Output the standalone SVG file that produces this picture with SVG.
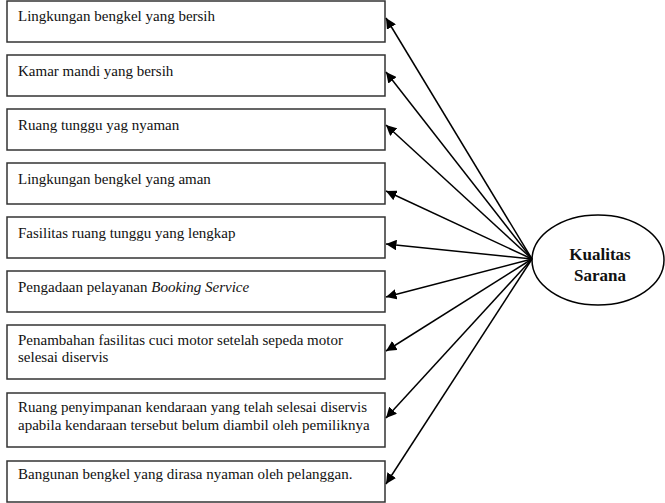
<svg xmlns="http://www.w3.org/2000/svg" width="665" height="503" viewBox="0 0 665 503">
<style>
.box{fill:#fff;stroke:#333;stroke-width:1.5}
.t{font-family:"Liberation Serif","Times New Roman",serif;font-size:15px;fill:#111}
.c{stroke:#000;stroke-width:1.5;fill:none;marker-end:url(#ah)}
.h{font-family:"Liberation Serif","Times New Roman",serif;font-size:17px;font-weight:bold;fill:#111;text-anchor:middle}
</style>
<defs>
<marker id="ah" viewBox="0 0 10 10" refX="10" refY="5" markerWidth="7" markerHeight="7" orient="auto" markerUnits="strokeWidth">
<path d="M0,0 L10,5 L0,10 z" fill="#000"/>
</marker>
</defs>
<rect width="665" height="503" fill="#fff"/>
<g id="n1"><rect class="box" x="7" y="1" width="378" height="41"/><text class="t" x="18" y="21">Lingkungan bengkel yang bersih</text></g>
<g id="n2"><rect class="box" x="7" y="55" width="378" height="41"/><text class="t" x="18" y="76">Kamar mandi yang bersih</text></g>
<g id="n3"><rect class="box" x="7" y="109" width="378" height="41"/><text class="t" x="18" y="130">Ruang tunggu yag nyaman</text></g>
<g id="n4"><rect class="box" x="7" y="163" width="378" height="41"/><text class="t" x="18" y="184">Lingkungan bengkel yang aman</text></g>
<g id="n5"><rect class="box" x="7" y="217" width="378" height="41"/><text class="t" x="18" y="238">Fasilitas ruang tunggu yang lengkap</text></g>
<g id="n6"><rect class="box" x="7" y="271" width="378" height="41"/><text class="t" x="18" y="292">Pengadaan pelayanan <tspan font-style="italic">Booking Service</tspan></text></g>
<g id="n7"><rect class="box" x="7" y="325" width="378" height="54"/><text class="t" x="18" y="345">Penambahan fasilitas cuci motor setelah sepeda motor</text><text class="t" x="18" y="362">selesai diservis</text></g>
<g id="n8"><rect class="box" x="7" y="393" width="378" height="54"/><text class="t" x="18" y="412">Ruang penyimpanan kendaraan yang telah selesai diservis</text><text class="t" x="18" y="430">apabila kendaraan tersebut belum diambil oleh pemiliknya</text></g>
<g id="n9"><rect class="box" x="7" y="461" width="378" height="41"/><text class="t" x="18" y="479">Bangunan bengkel yang dirasa nyaman oleh pelanggan.</text></g>
<g id="kualitas"><ellipse cx="598" cy="260" rx="66" ry="45" fill="#fff" stroke="#000" stroke-width="1.5"/><text class="h" x="600" y="260">Kualitas</text><text class="h" x="600" y="281">Sarana</text></g>
<g id="connectors">
<line class="c" x1="532" y1="259" x2="386" y2="18"/>
<line class="c" x1="532" y1="259" x2="386" y2="72"/>
<line class="c" x1="532" y1="259" x2="386" y2="125"/>
<line class="c" x1="532" y1="259" x2="386" y2="191"/>
<line class="c" x1="532" y1="259" x2="386" y2="244"/>
<line class="c" x1="532" y1="259" x2="386" y2="297"/>
<line class="c" x1="532" y1="259" x2="386" y2="351"/>
<line class="c" x1="532" y1="259" x2="386" y2="418"/>
<line class="c" x1="532" y1="259" x2="386" y2="484"/>
</g>
</svg>
